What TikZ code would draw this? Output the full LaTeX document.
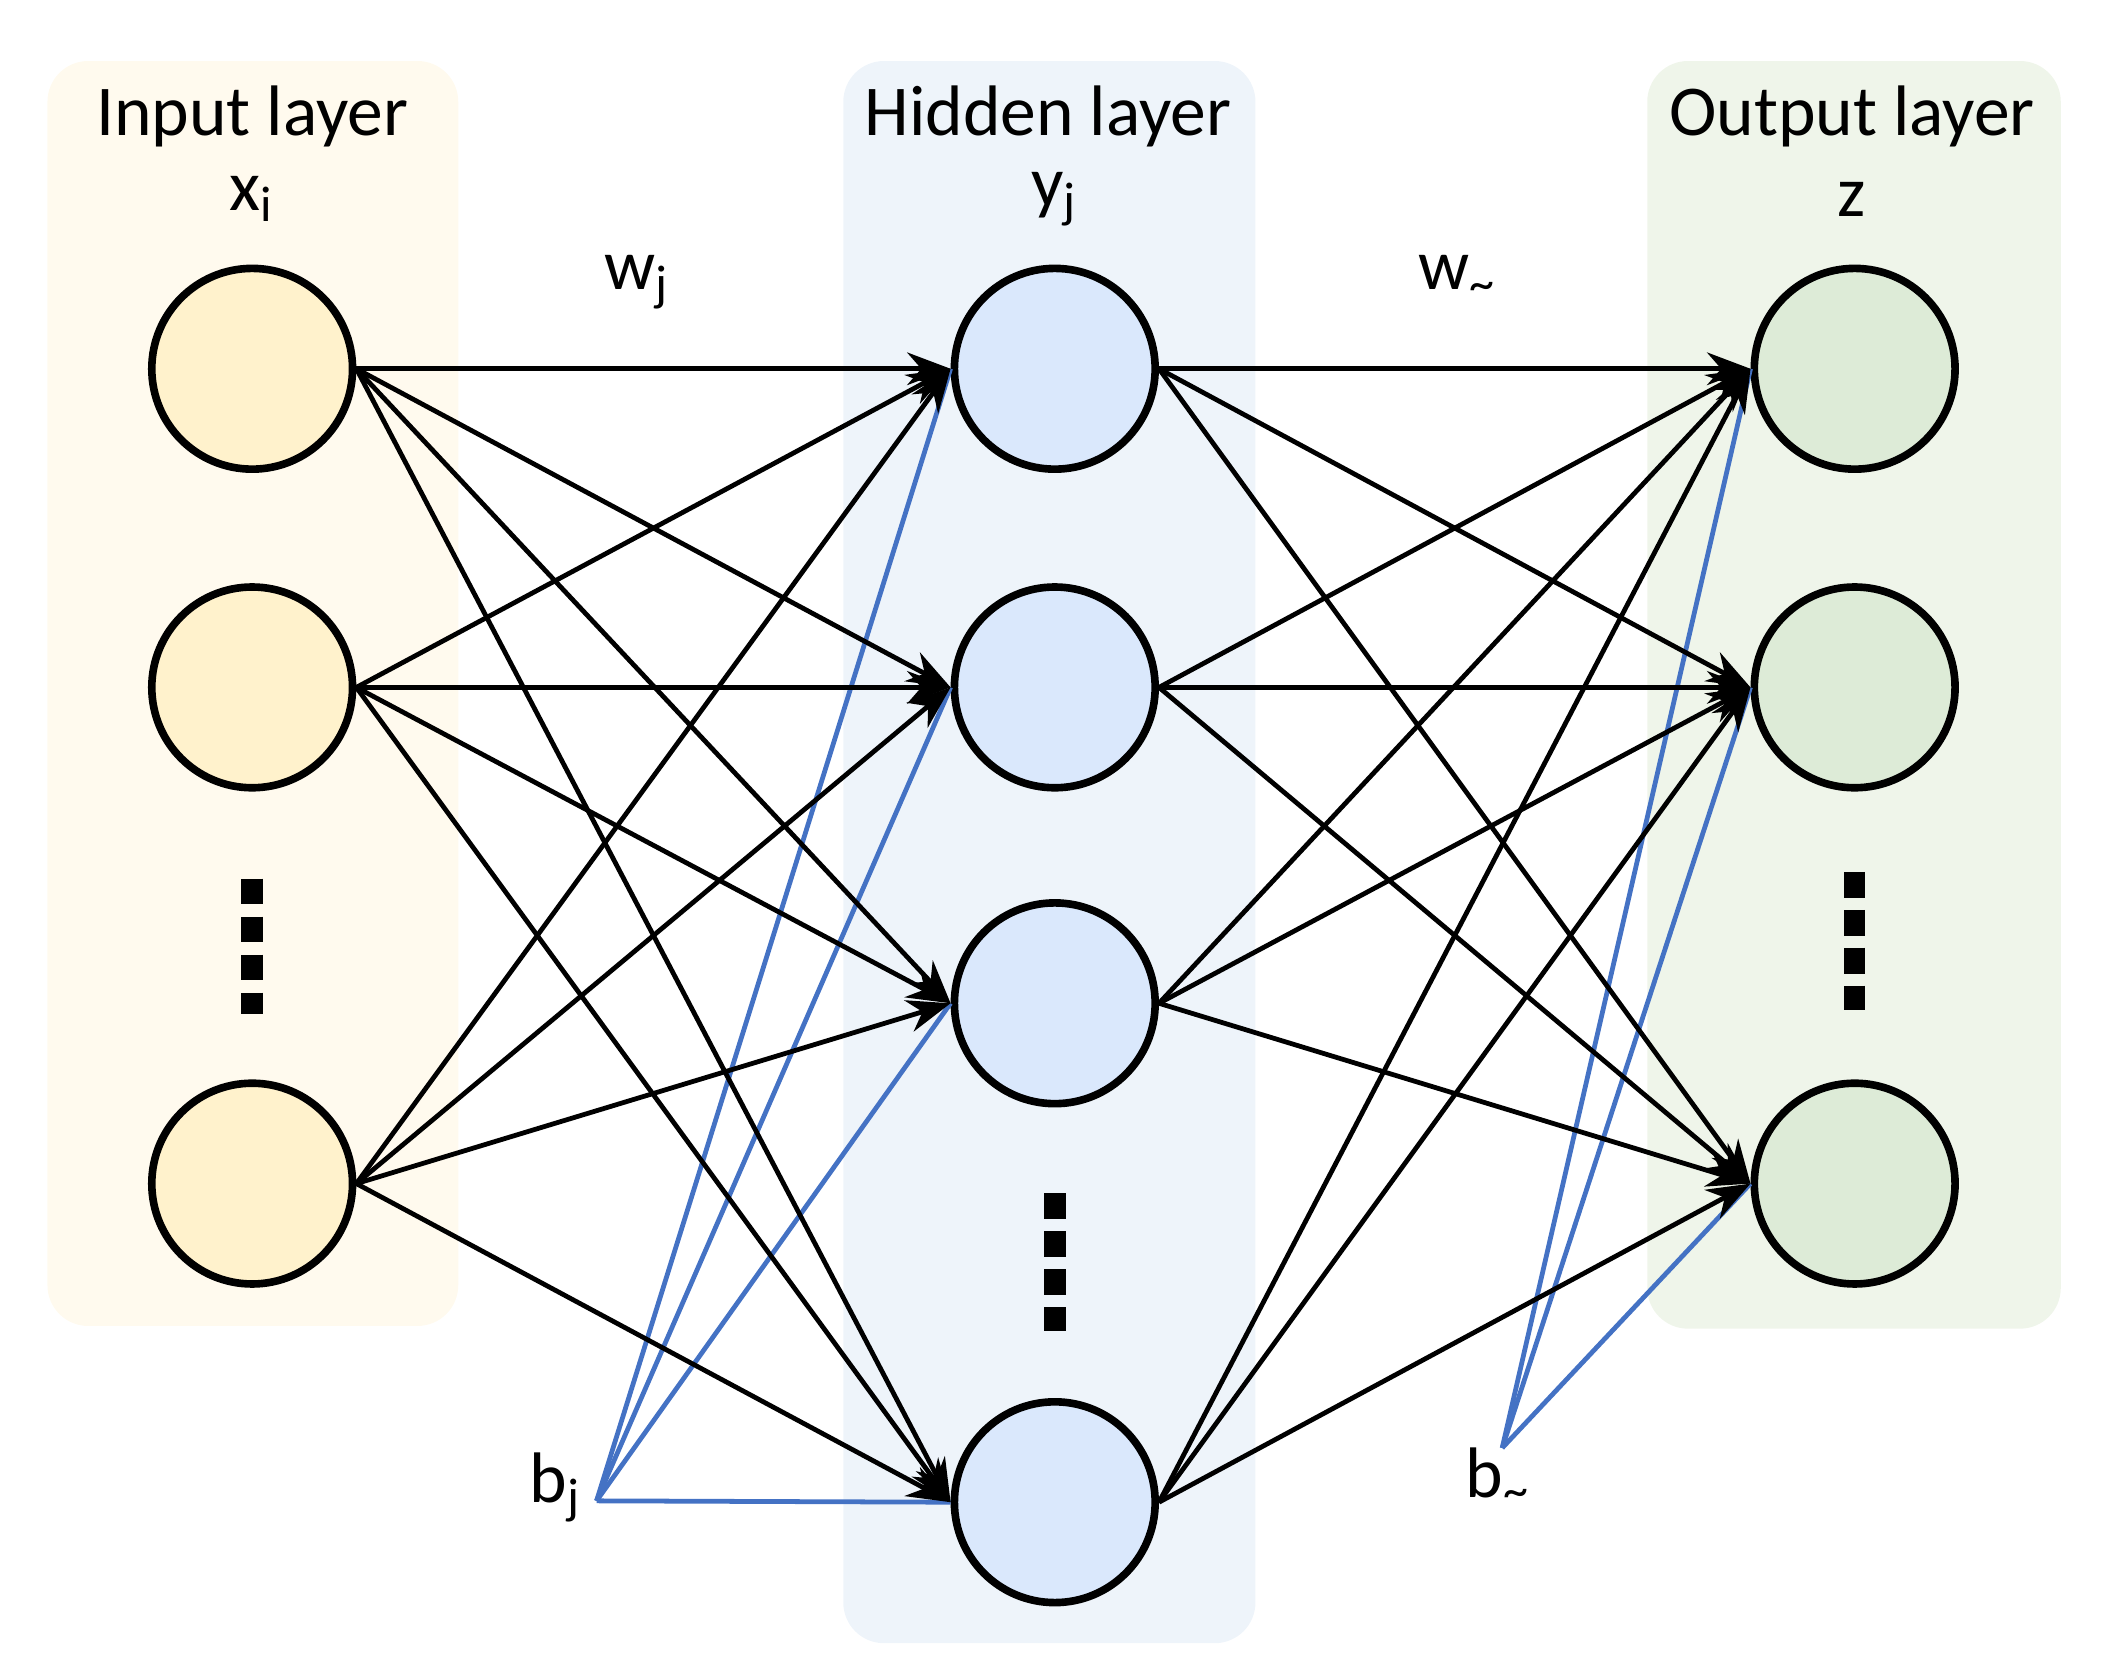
\documentclass[tikz,border=0pt]{standalone}
\usepackage{fontspec}
\setmainfont{Carlito}
\usetikzlibrary{arrows.meta}
\definecolor{inbg}{HTML}{FFFAEE}
\definecolor{hidbg}{HTML}{EEF4FA}
\definecolor{outbg}{HTML}{EFF5EA}
\definecolor{infill}{HTML}{FFF2CC}
\definecolor{hidfill}{HTML}{DAE8FC}
\definecolor{outfill}{HTML}{DDEBD7}
\definecolor{bias}{HTML}{4472C4}
\begin{document}
\begin{tikzpicture}[x=0.01cm,y=-0.01cm,
  neuron/.style={circle,draw=black,line width=1.6pt,minimum size=1.48cm,inner sep=0pt},
  panel/.style={rounded corners=0.3cm},
  lbl/.style={font=\fontsize{15}{18}\selectfont,inner sep=1pt},
  conn/.style={-{Stealth[length=0.32cm,width=0.24cm]},line width=1pt},
  bconn/.style={bias,line width=1pt},
  dots/.style={line width=4.5pt,dash pattern=on 0.19cm off 0.09cm}]
\useasboundingbox (0,0) rectangle (1560,1236);
\fill[inbg,panel] (35,45) rectangle (338,978);
\fill[hidbg,panel] (622,45) rectangle (926,1212);
\fill[outbg,panel] (1215,45) rectangle (1520,980);
\node[lbl] (tin) at (186,86) {Input layer};
\node[lbl] (tx) at (186,147) {x\textsubscript{i}};
\node[lbl] (thid) at (773,86) {Hidden layer};
\node[lbl] (ty) at (778,147) {y\textsubscript{j}};
\node[lbl] (tout) at (1366,86) {Output layer};
\node[lbl] (tz) at (1366,147) {z};
\node[lbl] (wj) at (470,208) {w\textsubscript{j}};
\node[lbl] (wo) at (1075,205) {w\textsubscript{\textasciitilde}};
\node[lbl] (bjl) at (410,1097) {b\textsubscript{j}};
\node[lbl] (bol) at (1105,1090) {b\textsubscript{\textasciitilde}};
\node[neuron,fill=infill] (i1) at (186,272) {};
\node[neuron,fill=infill] (i2) at (186,507) {};
\node[neuron,fill=infill] (i3) at (186,873) {};
\node[neuron,fill=hidfill] (h1) at (778,272) {};
\node[neuron,fill=hidfill] (h2) at (778,507) {};
\node[neuron,fill=hidfill] (h3) at (778,740) {};
\node[neuron,fill=hidfill] (h4) at (778,1108) {};
\node[neuron,fill=outfill] (o1) at (1368,272) {};
\node[neuron,fill=outfill] (o2) at (1368,507) {};
\node[neuron,fill=outfill] (o3) at (1368,873) {};
\coordinate (d1a) at (186,648); \coordinate (d1b) at (186,748);
\coordinate (d2a) at (778,880); \coordinate (d2b) at (778,982);
\coordinate (d3a) at (1368,643); \coordinate (d3b) at (1368,745);
\draw[dots] (d1a) -- (d1b);
\draw[dots] (d2a) -- (d2b);
\draw[dots] (d3a) -- (d3b);
\coordinate (bj) at (440,1107);
\coordinate (bo) at (1108,1068);
\foreach \h in {h1,h2,h3,h4} \draw[bconn] (bj) -- (\h.west);
\foreach \o in {o1,o2,o3} \draw[bconn] (bo) -- (\o.west);
\foreach \i in {i1,i2,i3} \foreach \h in {h1,h2,h3,h4} \draw[conn] (\i.east) -- (\h.west);
\foreach \h in {h1,h2,h3,h4} \foreach \o in {o1,o2,o3} \draw[conn] (\h.east) -- (\o.west);
\end{tikzpicture}
\end{document}
